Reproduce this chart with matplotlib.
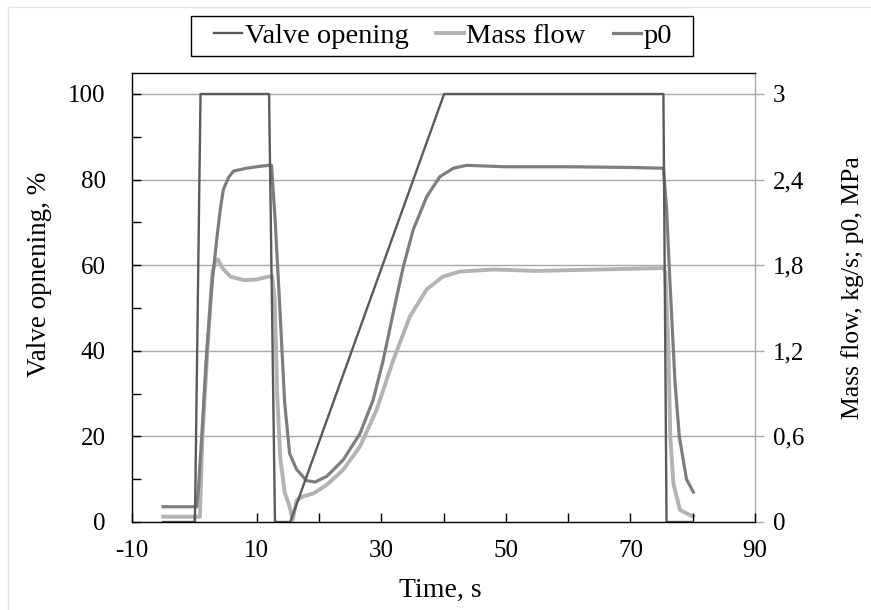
import matplotlib
matplotlib.use("Agg")
import matplotlib.pyplot as plt
from matplotlib.ticker import MultipleLocator, FixedLocator, FuncFormatter
from matplotlib.lines import Line2D
from matplotlib.patches import Rectangle

# ---- data ----
valve_t = [-5, 0.1, 1.0, 12.0, 12.95, 15.4, 40.1, 75.3, 75.8, 80]
valve_v = [0, 0, 100, 100, 0, 0, 100, 100, 0, 0]

p0_t = [-5, 0.4, 0.65, 1.2, 2.0, 2.8, 3.6, 4.2, 4.66, 5.5, 6.3, 8.4, 10.0, 11.9, 12.4,
        13.0, 13.8, 14.5, 15.3, 16.4, 18.0, 19.4, 21.25, 23.9, 26.6, 28.7, 30.3,
        31.9, 33.55, 35.15, 37.3, 39.4, 41.6, 43.7, 50, 60, 70, 75.3, 75.8,
        76.36, 77.16, 77.85, 79.0, 80.1]
p0_v = [0.107, 0.107, 0.225, 0.60, 1.20, 1.65, 1.98, 2.20, 2.33, 2.415, 2.46, 2.48, 2.49, 2.50, 2.50,
        2.10, 1.44, 0.84, 0.48, 0.37, 0.29, 0.28, 0.32, 0.435, 0.62, 0.855, 1.13,
        1.46, 1.79, 2.05, 2.28, 2.42, 2.48, 2.50, 2.49, 2.49, 2.485, 2.48, 2.2,
        1.67, 0.98, 0.60, 0.30, 0.21]

mf_t = [-5, 0.9, 1.3, 2.1, 2.9, 3.4, 3.8, 4.5, 5.8, 8.0, 10.0, 11.9, 12.5,
        12.9, 13.3, 13.8, 14.5, 15.3, 15.8, 16.4, 17.5, 19.1, 21.25, 23.9, 26.6,
        29.3, 31.9, 34.6, 37.3, 39.9, 42.6, 48, 55, 65, 75.3, 75.6, 76.1, 76.4,
        76.9, 77.95, 79.5, 80.1]
mf_v = [0.037, 0.037, 0.60, 1.20, 1.75, 1.83, 1.84, 1.78, 1.72, 1.695, 1.70, 1.72, 1.725,
        1.56, 0.90, 0.45, 0.21, 0.105, 0.015, 0.15, 0.18, 0.20, 0.26, 0.366, 0.53,
        0.79, 1.13, 1.44, 1.63, 1.72, 1.755, 1.77, 1.76, 1.77, 1.78, 1.75, 1.21, 0.60,
        0.27, 0.085, 0.05, 0.04]

x_major = [-10, 10, 30, 50, 70, 90]
left_ticks = [0, 20, 40, 60, 80, 100]
right_ticks = [0, 0.6, 1.2, 1.8, 2.4, 3.0]
right_labels = ["0", "0,6", "1,2", "1,8", "2,4", "3"]

# ---- styling ----
plt.rcParams['font.family'] = ['Liberation Serif', 'DejaVu Serif']
W, H = 871, 610
fig = plt.figure(figsize=(W / 100, H / 100), dpi=100)
L, R, T, B = 132, 755, 73, 522
ax2 = fig.add_axes([L / W, 1 - B / H, (R - L) / W, (B - T) / H])
ax = fig.add_axes([L / W, 1 - B / H, (R - L) / W, (B - T) / H], sharex=ax2)
ax.patch.set_visible(False)

c_valve = '#5a5a5a'
c_p0 = '#7e7e7e'
c_mf = '#b3b3b3'
c_grid = '#a8a8a8'

ytop = 100 * (B - T) / (B - 94)   # axis top lies above the 100 % line

# secondary axis (right) - grid and flows
ax2.set_ylim(0, 3 * ytop / 100)
ax2.set_xlim(-10, 90)
ax2.yaxis.tick_right()
ax2.set_yticks(right_ticks)
ax2.set_yticklabels(right_labels)
ax2.tick_params(axis='y', direction='out', length=6.5, width=1, color=c_grid,
                labelsize=18, pad=6.5)
ax2.tick_params(axis='x', which='both', bottom=False, labelbottom=False)
for y in right_ticks[1:]:
    ax2.axhline(y, color=c_grid, lw=1.0, zorder=0)
for s in ['left', 'top', 'bottom']:
    ax2.spines[s].set_visible(False)
ax2.spines['right'].set_color(c_grid)
ax2.spines['right'].set_linewidth(1.0)

lm, = ax2.plot(mf_t, mf_v, color=c_mf, lw=2.8, solid_joinstyle='round', label='Mass flow')
lp, = ax2.plot(p0_t, p0_v, color=c_p0, lw=2.3, solid_joinstyle='round', label='p0')

# primary axis (left) - valve
ax.set_ylim(0, ytop)
ax.set_xlim(-10, 90)
lv, = ax.plot(valve_t, valve_v, color=c_valve, lw=1.7, label='Valve opening')
ax.yaxis.set_major_locator(FixedLocator(left_ticks))
ax.yaxis.set_minor_locator(FixedLocator([10, 30, 50, 70, 90]))
ax.xaxis.set_major_locator(FixedLocator(x_major))
ax.xaxis.set_minor_locator(MultipleLocator(10))
ax.tick_params(axis='y', which='both', direction='in', length=6.5, width=1,
               color='black', right=False, labelsize=18, pad=19)
ax.tick_params(axis='x', which='both', direction='in', length=6.5, width=1,
               color='black', top=False, labelsize=18, pad=13)
ax.xaxis.set_major_formatter(FuncFormatter(lambda v, p: f"{v:.0f}"))
ax.spines['right'].set_visible(False)
for s in ['left', 'top', 'bottom']:
    ax.spines[s].set_color('black')
    ax.spines[s].set_linewidth(1.0)

# labels
fig.text(40 / W, 1 - 274 / H, "Valve opnening, %", rotation=90, ha='center', va='center', fontsize=19.5)
fig.text(853 / W, 1 - 288 / H, "Mass flow, kg/s; p0, MPa", rotation=90, ha='center', va='center', fontsize=18.5)
fig.text(440 / W, 1 - 590 / H, "Time, s", ha='center', va='center', fontsize=20)

# legend with a separate rectangular frame
fig.patches.append(Rectangle((191 / W, 1 - 56 / H), (693 - 191) / W, 40 / H,
                             transform=fig.transFigure, fill=False, ec='black', lw=1.0))
fig.legend([lv, lm, lp], ['Valve opening', 'Mass flow', 'p0'], loc='center',
           bbox_to_anchor=(443 / W, 1 - 36 / H), ncol=3, frameon=False, fontsize=20.5,
           handlelength=1.0, handletextpad=0.08, columnspacing=0.95, borderpad=0.1)

# faint outer frame lines
fig.add_artist(Line2D([8 / W, 1], [1 - 7 / H, 1 - 7 / H], transform=fig.transFigure, color='#e6e6da', lw=1))
fig.add_artist(Line2D([8 / W, 8 / W], [0, 1 - 7 / H], transform=fig.transFigure, color='#e6e6da', lw=1))

fig.savefig("out.png", dpi=100)
